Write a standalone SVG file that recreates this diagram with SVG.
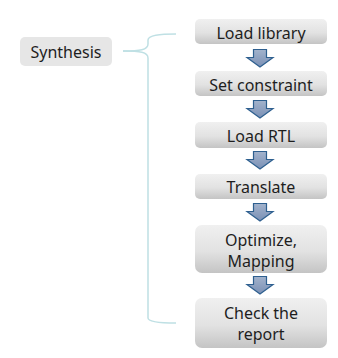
<svg xmlns="http://www.w3.org/2000/svg" width="338" height="358" viewBox="0 0 338 358">
<defs>
<linearGradient id="boxg" x1="0" y1="0" x2="0" y2="1">
<stop offset="0" stop-color="#f0f0f0"/>
<stop offset="0.55" stop-color="#e2e2e2"/>
<stop offset="1" stop-color="#c4c4c4"/>
</linearGradient>
<linearGradient id="arrg" x1="0" y1="0" x2="0" y2="1">
<stop offset="0" stop-color="#a3b3cc"/>
<stop offset="1" stop-color="#7a90b5"/>
</linearGradient>
<style>
.box{fill:url(#boxg);}
.arr{fill:url(#arrg);stroke:#2e5f8f;stroke-width:1.2;stroke-linejoin:miter;}
.t{font-family:"Noto Sans","Open Sans",sans-serif;font-size:16px;fill:#1e1e1e;text-anchor:middle;}
.br{fill:none;stroke:#bfe0e4;stroke-width:1.5;}
</style>
</defs>
<g id="synthesis">
<rect x="20" y="37" width="92" height="29" rx="5" fill="#e6e6e6"/>
<text class="t" x="66" y="58">Synthesis</text>
</g>
<g id="connectors">
<path class="br" d="M123,51 C140,51 148,50 148,44 L148,40 C148,35 160,34 176,34"/>
<path class="br" d="M123,51 C140,51 148,52 148,58 L148,318 C148,322 160,323 176,323"/>
<path id="a1" class="arr" d="M253.5,49.5 H266.5 V57.5 H273 L260,67 L247,57.5 H253.5 Z"/>
<path id="a2" class="arr" d="M253.5,100.5 H266.5 V108.5 H273 L260,118 L247,108.5 H253.5 Z"/>
<path id="a3" class="arr" d="M253.5,151.5 H266.5 V159.5 H273 L260,169 L247,159.5 H253.5 Z"/>
<path id="a4" class="arr" d="M253.5,203.5 H266.5 V211.5 H273 L260,221 L247,211.5 H253.5 Z"/>
<path id="a5" class="arr" d="M253.5,276.5 H266.5 V284.5 H273 L260,294 L247,284.5 H253.5 Z"/>
</g>
<g id="load-library">
<rect class="box" x="195" y="19" width="132" height="25" rx="5"/>
<text class="t" x="261" y="38.5">Load library</text>
</g>
<g id="set-constraint">
<rect class="box" x="195" y="71" width="132" height="25" rx="5"/>
<text class="t" x="261" y="90.5">Set constraint</text>
</g>
<g id="load-rtl">
<rect class="box" x="195" y="122" width="132" height="26" rx="5"/>
<text class="t" x="261" y="141.5">Load RTL</text>
</g>
<g id="translate">
<rect class="box" x="195" y="174" width="132" height="25" rx="5"/>
<text class="t" x="261" y="193">Translate</text>
</g>
<g id="optimize">
<rect class="box" x="195" y="225" width="132" height="48" rx="7"/>
<text class="t" x="261" y="246">Optimize,</text>
<text class="t" x="261" y="267">Mapping</text>
</g>
<g id="check-report">
<rect class="box" x="195" y="298" width="132" height="50" rx="7"/>
<text class="t" x="261" y="319">Check the</text>
<text class="t" x="261" y="340">report</text>
</g>
</svg>
